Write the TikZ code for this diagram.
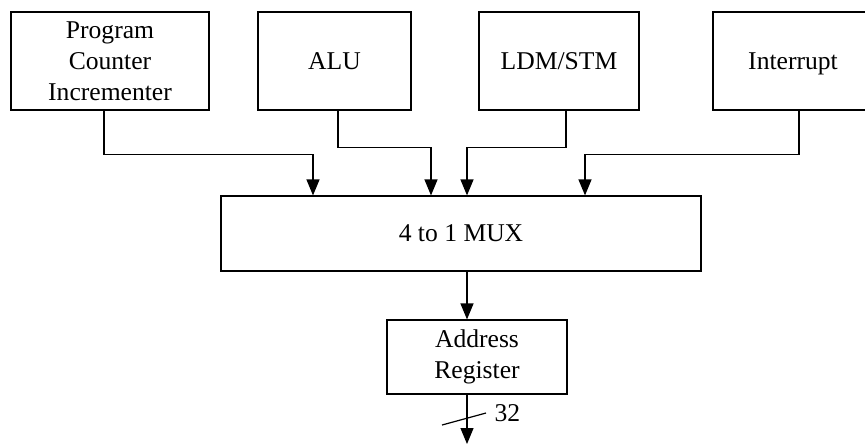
\documentclass[tikz,border=0pt]{standalone}
\usepackage{fontspec}
\setmainfont{Liberation Serif}
\usetikzlibrary{arrows.meta}

\begin{document}
\begin{tikzpicture}[x=0.5pt, y=-0.5pt, line width=0.6pt,
	unit/.style={draw, align=center, inner sep=0pt, minimum height=49pt,
		font=\fontsize{12.8}{15.5}\selectfont},
	arr/.style={-{Triangle[length=8pt, width=6.5pt]}}]
\useasboundingbox (0,0) rectangle (865,446);
\node[unit, minimum width=99pt] (pci) at (110,61) {Program\\Counter\\Incrementer};
\node[unit, minimum width=76.5pt] (alu) at (334.5,61) {ALU};
\node[unit, minimum width=80pt] (ldm) at (559,61) {LDM/STM};
\node[unit, minimum width=80pt, text depth=0pt] (intr) at (793,61) {Interrupt};
\node[unit, minimum width=240pt, minimum height=37.5pt] (mux) at (461,233.5) {4 to 1 MUX};
\node[unit, minimum width=90pt, minimum height=37pt] (addr) at (477,357) {Address\\Register};
\coordinate (out) at (467,444);
\draw[arr] ([xshift=-3pt]pci.south) -- ++(0,44) -| ([xshift=-74pt]mux.north);
\draw[arr] ([xshift=1.75pt]alu.south) -- ++(0,37) -| ([xshift=-15pt]mux.north);
\draw[arr] ([xshift=3.5pt]ldm.south) -- ++(0,37) -| ([xshift=3pt]mux.north);
\draw[arr] ([xshift=3pt]intr.south) -- ++(0,44) -| ([xshift=62pt]mux.north);
\draw[arr] ([xshift=3pt]mux.south) -- ([xshift=-5pt]addr.north);
\draw[arr] ([xshift=-5pt]addr.south) -- (out);
% bus width mark
\draw (442,425) -- (486,413) node[right, inner sep=4pt, font=\fontsize{12.8}{15.5}\selectfont] (width) {32};
\end{tikzpicture}
\end{document}
